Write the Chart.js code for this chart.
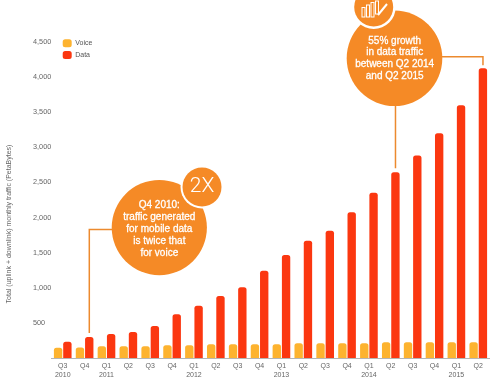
<!DOCTYPE html>
<html>
<head>
<meta charset="utf-8">
<title>Mobile traffic</title>
<script src="https://cdn.jsdelivr.net/npm/chart.js@4"></script>
<style>
    html, body { margin: 0; padding: 0; background: #fff; }
    canvas { display: block; }
</style>
</head>
<body>
<canvas id="trafficChart" width="500" height="385"></canvas>
<script>
const quarters = [
    ['Q3', '2010'], 'Q4',
    ['Q1', '2011'], 'Q2', 'Q3', 'Q4',
    ['Q1', '2012'], 'Q2', 'Q3', 'Q4',
    ['Q1', '2013'], 'Q2', 'Q3', 'Q4',
    ['Q1', '2014'], 'Q2', 'Q3', 'Q4',
    ['Q1', '2015'], 'Q2'
];
const voice = [147, 150, 166, 166, 166, 180, 180, 195, 195, 195, 195, 209, 209, 209, 209, 223, 223, 223, 223, 223];
const data = [232, 299, 342, 370, 456, 622, 745, 883, 1007, 1244, 1467, 1671, 1813, 2075, 2355, 2645, 2882, 3200, 3600, 4126];

const calloutColor = '#f58a26';
const leaderColor = '#ec8a2e';
const font = '"Liberation Sans", Arial, sans-serif';

function circle(ctx, x, y, r, fill) {
    ctx.fillStyle = fill;
    ctx.beginPath();
    ctx.arc(x, y, r, 0, Math.PI * 2);
    ctx.fill();
}

function leader(ctx, points) {
    ctx.strokeStyle = leaderColor;
    ctx.lineWidth = 1.5;
    ctx.beginPath();
    points.forEach((p, i) => i ? ctx.lineTo(p[0], p[1]) : ctx.moveTo(p[0], p[1]));
    ctx.stroke();
}

function centeredLines(ctx, lines, x, ys) {
    ctx.fillStyle = '#fff';
    ctx.strokeStyle = '#fff';
    ctx.lineWidth = 0.3;
    ctx.font = '10px ' + font;
    ctx.textAlign = 'center';
    ctx.textBaseline = 'middle';
    lines.forEach((line, i) => {
        ctx.fillText(line, x, ys[i]);
        ctx.strokeText(line, x, ys[i]);
    });
}

// callouts, leader lines and the rotated axis title
const annotations = {
    id: 'annotations',
    afterLayout(chart) {
        chart.legend.left = 59;
        chart.legend.top = 35.5;
    },
    afterDatasetsDraw(chart) {
        const ctx = chart.ctx;
        const xs = chart.scales.x;
        const ys = chart.scales.y;
        const barX = i => xs.getPixelForValue(i) + 4.7;
        ctx.save();

        // Q4 2010
        leader(ctx, [[120, 229.5], [barX(1), 229.5], [barX(1), ys.getPixelForValue(data[1]) - 4]]);
        circle(ctx, 159.3, 227.6, 47.6, calloutColor);
        circle(ctx, 202, 187, 21.5, '#fff');
        circle(ctx, 202, 187, 19.5, calloutColor);
        centeredLines(ctx, ['Q4 2010:', 'traffic generated', 'for mobile data', 'is twice that', 'for voice'],
            159.3, [205.5, 217.5, 229.3, 241.2, 253]);
        ctx.font = '300 21px Roboto, ' + font;
        ctx.fillText('2X', 202, 187);

        // Q2 2014 - Q2 2015
        leader(ctx, [[barX(15), 100], [barX(15), ys.getPixelForValue(data[15]) - 4]]);
        leader(ctx, [[435, 56.7], [barX(19), 56.7], [barX(19), ys.getPixelForValue(data[19]) - 3]]);
        circle(ctx, 394.5, 58.3, 47.8, calloutColor);
        circle(ctx, 373.7, 7, 22, '#fff');
        circle(ctx, 373.7, 7, 19.5, calloutColor);
        centeredLines(ctx, ['55% growth', 'in data traffic', 'between Q2 2014', 'and Q2 2015'],
            394.7, [41, 52.7, 64.5, 76.5]);

        // growth icon
        ctx.strokeStyle = '#fff';
        ctx.lineWidth = 1;
        [[362, 7.5, 9.5], [366.5, 5, 12], [371, 2.5, 14.5], [375.5, 1, 13]].forEach(b => ctx.strokeRect(b[0], b[1], 3, b[2]));
        ctx.lineWidth = 2;
        ctx.beginPath();
        ctx.moveTo(378, 15);
        ctx.lineTo(387, 4);
        ctx.stroke();

        // axis title
        ctx.translate(9.5, 224);
        ctx.rotate(-Math.PI / 2);
        ctx.fillStyle = '#666';
        ctx.font = '7px ' + font;
        ctx.textAlign = 'center';
        ctx.textBaseline = 'middle';
        ctx.fillText('Total (uplink + downlink) monthly traffic (PetaBytes)', 0, 0);
        ctx.restore();
    }
};

new Chart(document.getElementById('trafficChart'), {
    type: 'bar',
    data: {
        labels: quarters,
        datasets: [
            {
                label: 'Voice',
                data: voice,
                backgroundColor: '#fdb32f',
                borderRadius: { topLeft: 2.5, topRight: 2.5 },
                borderSkipped: 'bottom',
                categoryPercentage: 0.85,
                barPercentage: 0.9
            },
            {
                label: 'Data',
                data: data,
                backgroundColor: '#fb3710',
                borderRadius: { topLeft: 2.5, topRight: 2.5 },
                borderSkipped: 'bottom',
                categoryPercentage: 0.85,
                barPercentage: 0.9
            }
        ]
    },
    options: {
        responsive: false,
        animation: false,
        layout: { padding: { left: 33, right: 10.8, top: 42, bottom: 6 } },
        scales: {
            x: {
                grid: { display: false, drawTicks: false },
                border: { color: '#b5b5b5', width: 1 },
                ticks: {
                    color: '#666',
                    font: { family: font, size: 7 },
                    maxRotation: 0,
                    autoSkip: false,
                    padding: 4
                },
                afterFit(axis) { axis.height = 21; }
            },
            y: {
                min: 0,
                max: 4500,
                grid: { display: false, drawTicks: false },
                border: { display: false },
                ticks: {
                    stepSize: 500,
                    crossAlign: 'far',
                    color: '#666',
                    font: { family: font, size: 7.3 },
                    callback: v => v === 0 ? '' : v.toLocaleString('en-US')
                },
                afterFit(axis) { axis.width = 18.8; }
            }
        },
        plugins: {
            tooltip: { enabled: false },
            legend: {
                position: 'chartArea',
                align: 'start',
                padding: 0,
                labels: {
                    boxWidth: 9,
                    boxHeight: 8,
                    padding: 3.7,
                    useBorderRadius: true,
                    borderRadius: 2.5,
                    color: '#555',
                    font: { family: font, size: 7 }
                }
            }
        }
    },
    plugins: [annotations]
});
</script>
</body>
</html>
